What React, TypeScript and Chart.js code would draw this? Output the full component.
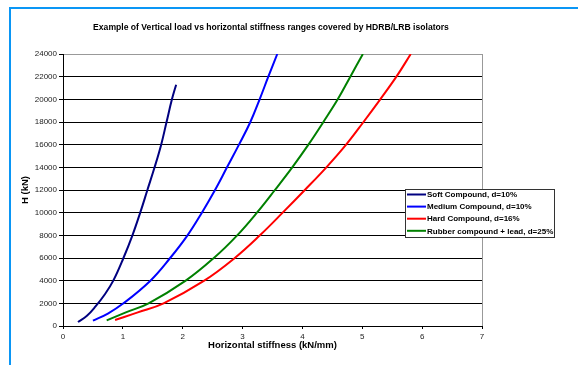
import React, { useEffect, useRef } from "react";
import { Chart, registerables } from "chart.js";

Chart.register(...registerables);

const TITLE = "Example of Vertical load vs horizontal stiffness ranges covered by HDRB/LRB isolators";
const X_TITLE = "Horizontal stiffness (kN/mm)";
const Y_TITLE = "H (kN)";

const seriesNames = [
  "Soft Compound, d=10%",
  "Medium Compound, d=10%",
  "Hard Compound, d=16%",
  "Rubber compound + lead, d=25%",
];
const seriesColors = ["#000080", "#0000FF", "#FF0000", "#008000"];

const softX = [0.25, 0.4, 0.54, 0.7, 0.84, 1.01, 1.16, 1.29, 1.41, 1.53, 1.64, 1.73, 1.82, 1.89];
const softY = [350, 900, 1700, 2800, 4000, 6000, 8000, 10000, 12000, 14000, 16000, 18000, 20000, 21290];

const mediumX = [0.5, 0.75, 1.01, 1.46, 1.79, 2.08, 2.32, 2.54, 2.74, 2.94, 3.13, 3.285, 3.43, 3.58];
const mediumY = [470, 1100, 2000, 4000, 6000, 8000, 10000, 12000, 14000, 16000, 18000, 20000, 22000, 24000];

const hardX = [0.87, 1.25, 1.68, 2.36, 2.87, 3.29, 3.67, 4.04, 4.4, 4.73, 5.02, 5.3, 5.57, 5.81];
const hardY = [530, 1200, 2000, 4000, 6000, 8000, 10000, 12000, 14000, 16000, 18000, 20000, 22000, 24000];

const leadX = [0.73, 1.05, 1.43, 2.05, 2.52, 2.91, 3.24, 3.54, 3.83, 4.1, 4.35, 4.59, 4.8, 5.01];
const leadY = [500, 1200, 2000, 4000, 6000, 8000, 10000, 12000, 14000, 16000, 18000, 20000, 22000, 24000];

const xTicks = [0, 1, 2, 3, 4, 5, 6, 7];
const yTicks = [0, 2000, 4000, 6000, 8000, 10000, 12000, 14000, 16000, 18000, 20000, 22000, 24000];

const FONT = 'Arial, "Liberation Sans", sans-serif';

const toPoints = (xs: number[], ys: number[]) => xs.map((x, i) => ({ x, y: ys[i] }));

const decorPlugin = {
  id: "decor",
  beforeDraw(chart: any) {
    const ctx = chart.ctx;
    ctx.save();
    ctx.fillStyle = "#0a96f5";
    ctx.fillRect(9, 7, 2, chart.height - 7);
    ctx.fillRect(9, 7, chart.width - 9, 2);
    ctx.fillStyle = "#000";
    ctx.font = `bold 8.6px ${FONT}`;
    ctx.textAlign = "center";
    ctx.textBaseline = "middle";
    ctx.fillText(TITLE, 271, 28);
    ctx.restore();
  },
  afterDraw(chart: any) {
    const ctx = chart.ctx;
    const a = chart.chartArea;
    ctx.save();
    ctx.strokeStyle = "#999";
    ctx.lineWidth = 1;
    ctx.beginPath();
    ctx.moveTo(Math.round(a.right) + 0.5, a.top);
    ctx.lineTo(Math.round(a.right) + 0.5, a.bottom);
    ctx.stroke();

    // legend
    const lx = 405.5, ly = 189.5, lw = 149, lh = 48;
    ctx.fillStyle = "#fff";
    ctx.fillRect(lx, ly, lw, lh);
    ctx.strokeStyle = "#333";
    ctx.lineWidth = 1;
    ctx.strokeRect(lx, ly, lw, lh);
    ctx.font = `bold 8px ${FONT}`;
    ctx.textAlign = "left";
    ctx.textBaseline = "middle";
    chart.data.datasets.forEach((ds: any, i: number) => {
      const y = 194.5 + i * 12.1;
      ctx.strokeStyle = ds.borderColor;
      ctx.lineWidth = 2;
      ctx.beginPath();
      ctx.moveTo(407, y);
      ctx.lineTo(426, y);
      ctx.stroke();
      ctx.fillStyle = "#000";
      ctx.fillText(ds.label, 427, y + 0.5);
    });
    ctx.restore();
  },
};

export default function App() {
  const ref = useRef<HTMLCanvasElement | null>(null);
  useEffect(() => {
    if (!ref.current) return;
    const xs = [softX, mediumX, hardX, leadX];
    const ys = [softY, mediumY, hardY, leadY];
    const chart = new Chart(ref.current, {
      type: "line",
      data: {
        datasets: seriesNames.map((name, i) => ({
          label: name,
          data: toPoints(xs[i], ys[i]),
          borderColor: seriesColors[i],
          backgroundColor: seriesColors[i],
          borderWidth: 2,
          pointRadius: 0,
          tension: 0.4,
          fill: false,
        })),
      },
      options: {
        responsive: false,
        animation: false,
        devicePixelRatio: 1,
        layout: { padding: { left: 0, top: 54, right: 96, bottom: 0 } },
        plugins: {
          legend: { display: false },
          title: { display: false },
          tooltip: { enabled: false },
        },
        scales: {
          x: {
            type: "linear",
            min: 0,
            max: 7,
            afterBuildTicks: (s: any) => {
              s.ticks = xTicks.map((v) => ({ value: v }));
            },
            afterFit: (s: any) => {
              s.height = 39;
            },
            ticks: {
              color: "#222",
              font: { family: FONT, size: 8 },
              padding: 3,
              maxRotation: 0,
              callback: (v: any) => String(v),
            },
            grid: {
              drawOnChartArea: false,
              drawTicks: true,
              tickLength: 3,
              color: "#000",
            },
            border: { color: "#000", width: 1 },
            title: {
              display: true,
              text: X_TITLE,
              color: "#000",
              font: { family: FONT, size: 9.5, weight: "bold" },
              padding: { top: 0, bottom: 14 },
            },
          },
          y: {
            type: "linear",
            min: 0,
            max: 24000,
            afterBuildTicks: (s: any) => {
              s.ticks = yTicks.map((v) => ({ value: v }));
            },
            afterFit: (s: any) => {
              s.width = 63;
            },
            ticks: {
              color: "#222",
              font: { family: FONT, size: 8 },
              padding: 2,
              callback: (v: any) => String(v),
            },
            grid: {
              drawTicks: true,
              tickLength: 4,
              color: (c: any) => (c.tick && c.tick.value === 24000 ? "#999" : "#000"),
              tickColor: "#000",
            },
            border: { color: "#000", width: 1 },
            title: {
              display: true,
              text: Y_TITLE,
              color: "#000",
              font: { family: FONT, size: 9.5, weight: "bold" },
              padding: { top: 20, bottom: 0 },
            },
          },
        },
      },
      plugins: [decorPlugin],
    });
    return () => chart.destroy();
  }, []);

  return (
    <div style={{ position: "fixed", left: 0, top: 0, width: 578, height: 365, background: "#fff" }}>
      <canvas ref={ref} width={578} height={365} style={{ display: "block" }} />
    </div>
  );
}
